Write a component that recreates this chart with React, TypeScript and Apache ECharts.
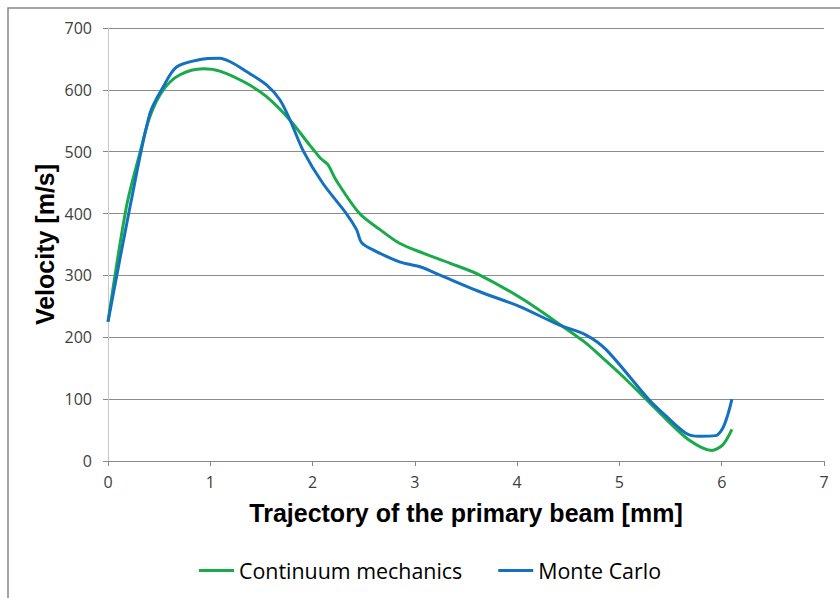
import React, { useEffect, useRef } from "react";
import * as echarts from "echarts";

const seriesNames = ["Continuum mechanics", "Monte Carlo"];

const continuumX = [0, 0.18, 0.31, 0.41, 0.54, 0.7, 0.93, 1.1, 1.35, 1.55, 1.78, 1.97, 2.03, 2.08, 2.15, 2.23, 2.46, 2.66, 2.85, 3.08, 3.34, 3.63, 4.06, 4.45, 4.67, 4.84, 5.07, 5.46, 5.68, 5.9, 6.01, 6.1];
const continuumY = [225, 411, 497, 557, 600, 624, 634, 630, 611, 589, 551, 511, 499, 489, 479, 454, 400, 374, 352, 336, 320, 301, 261, 217, 191, 166, 131, 67, 34, 17, 26, 51];

const monteCarloX = [0, 0.22, 0.41, 0.54, 0.67, 0.9, 1.09, 1.2, 1.35, 1.55, 1.68, 1.78, 1.91, 2.1, 2.33, 2.43, 2.48, 2.62, 2.85, 3.05, 3.24, 3.63, 4.02, 4.41, 4.67, 4.87, 5.29, 5.46, 5.65, 5.78, 5.94, 6.01, 6.06, 6.1];
const monteCarloY = [225, 415, 562, 605, 637, 649, 651, 645, 630, 608, 584, 551, 501, 449, 400, 374, 353, 339, 322, 314, 301, 274, 250, 220, 204, 180, 99, 72, 45, 40, 41, 53, 75, 100];

const xTitle = "Trajectory of the primary beam [mm]";
const yTitle = "Velocity [m/s]";

const zip = (xs: number[], ys: number[]) => xs.map((x, i) => [x, ys[i]]);

export default function App() {
  const ref = useRef<HTMLDivElement>(null);
  useEffect(() => {
    document.body.style.margin = "0";
    if (!ref.current) return;
    const chart = echarts.init(ref.current, null, { renderer: "svg" });
    const tickFont = { fontFamily: "Open Sans", fontSize: 16, color: "#404040" };
    chart.setOption({
      animation: false,
      backgroundColor: "#ffffff",
      graphic: [
        {
          type: "rect",
          shape: { x: 8, y: 8, width: 900, height: 700 },
          style: { fill: "none", stroke: "#888888", lineWidth: 1.5 },
          silent: true,
        },
      ],
      grid: { left: 108, right: 16, top: 28, bottom: 137, containLabel: false },
      legend: {
        data: seriesNames,
        left: 199,
        top: 560,
        padding: 0,
        icon: "rect",
        itemWidth: 35,
        itemHeight: 3,
        itemGap: 36,
        textStyle: { fontFamily: "Open Sans", fontSize: 21.4, color: "#000000" },
      },
      xAxis: {
        type: "value",
        min: 0,
        max: 7,
        interval: 1,
        name: xTitle,
        nameLocation: "middle",
        nameGap: 39,
        nameMoveOverlap: false,
        nameTextStyle: { fontFamily: "Liberation Sans", fontSize: 25, fontWeight: "bold", color: "#000000" },
        axisLine: { show: true, lineStyle: { color: "#888888", width: 1 } },
        axisTick: { show: true, length: 5, lineStyle: { color: "#888888" } },
        axisLabel: { ...tickFont, margin: 13 },
        splitLine: { show: false },
      },
      yAxis: {
        type: "value",
        min: 0,
        max: 700,
        interval: 100,
        name: yTitle,
        nameLocation: "middle",
        nameGap: 51,
        nameMoveOverlap: false,
        nameTextStyle: { fontFamily: "Liberation Sans", fontSize: 25, fontWeight: "bold", color: "#000000" },
        axisLine: { show: true, lineStyle: { color: "#c8c8c8", width: 1 } },
        axisTick: { show: true, length: 5, lineStyle: { color: "#888888" } },
        axisLabel: { ...tickFont, margin: 16 },
        splitLine: { show: true, lineStyle: { color: "#8c8c8c", width: 1 } },
      },
      series: [
        {
          name: seriesNames[0],
          type: "line",
          data: zip(continuumX, continuumY),
          smooth: 0.3,
          symbol: "none",
          lineStyle: { color: "#1aaa4a", width: 3 },
          itemStyle: { color: "#1aaa4a" },
        },
        {
          name: seriesNames[1],
          type: "line",
          data: zip(monteCarloX, monteCarloY),
          smooth: 0.3,
          symbol: "none",
          lineStyle: { color: "#1470c0", width: 3 },
          itemStyle: { color: "#1470c0" },
        },
      ],
    });
    return () => chart.dispose();
  }, []);
  return <div ref={ref} style={{ width: 840, height: 598 }} />;
}
